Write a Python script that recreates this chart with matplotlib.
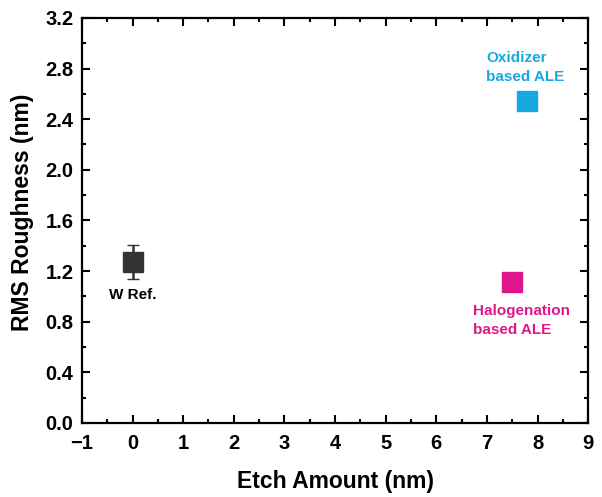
import matplotlib
matplotlib.use("Agg")
import matplotlib.pyplot as plt
from matplotlib.ticker import MultipleLocator

plt.rcParams['font.family'] = ['Liberation Sans', 'DejaVu Sans']
plt.rcParams['font.weight'] = 'bold'

labels = ["W Ref.", "Halogenation\nbased ALE", "Oxidizer\nbased ALE"]
etch = [0.0, 7.5, 7.8]
rms = [1.27, 1.11, 2.54]
err = [0.135, 0.03, 0.03]
colors = ["#333333", "#E0178C", "#16A9E1"]

fig = plt.figure(figsize=(6.02, 4.97), dpi=100)
ax = fig.add_axes([0.136, 0.149, 0.841, 0.815])

for x, y, e, c in zip(etch, rms, err, colors):
    ax.errorbar(x, y, yerr=e, fmt='s', color=c, ms=15, capsize=4,
                elinewidth=1.8, capthick=1.8, mec=c, mew=1)

ax.text(etch[0], rms[0] - 0.26, labels[0], ha='center', va='center',
        fontsize=11, fontweight='bold', color='black')
ax.text(6.72, 0.81, labels[1], ha='left', va='center',
        fontsize=11, fontweight='bold', color=colors[1], linespacing=1.4)
ax.text(6.98, 2.808, labels[2], ha='left', va='center',
        fontsize=11, fontweight='bold', color=colors[2], linespacing=1.4)

ax.set_xlim(-1, 9)
ax.set_ylim(0, 3.2)
ax.xaxis.set_major_locator(MultipleLocator(1))
ax.xaxis.set_minor_locator(MultipleLocator(0.5))
ax.yaxis.set_major_locator(MultipleLocator(0.4))
ax.yaxis.set_minor_locator(MultipleLocator(0.2))
ax.yaxis.set_major_formatter(matplotlib.ticker.FormatStrFormatter('%.1f'))
ax.xaxis.set_major_formatter(matplotlib.ticker.FuncFormatter(
    lambda v, p: ('\u2212%d' % abs(v)) if v < 0 else '%d' % v))

ax.tick_params(which='both', direction='in', top=True, right=True, width=1.5)
ax.tick_params(which='major', length=6, labelsize=14.5)
ax.tick_params(axis='x', which='major', pad=8)
ax.tick_params(axis='y', which='major', pad=6)
ax.tick_params(which='minor', length=3)
for s in ax.spines.values():
    s.set_linewidth(1.6)
for lab in ax.get_xticklabels() + ax.get_yticklabels():
    lab.set_fontweight('bold')

ax.set_xlabel("Etch Amount (nm)", fontsize=16.5, fontweight='bold', labelpad=12)
ax.set_ylabel("RMS Roughness (nm)", fontsize=16.5, fontweight='bold')
ax.yaxis.set_label_coords(-0.094, 0.52)

fig.savefig("out.png", dpi=100)
